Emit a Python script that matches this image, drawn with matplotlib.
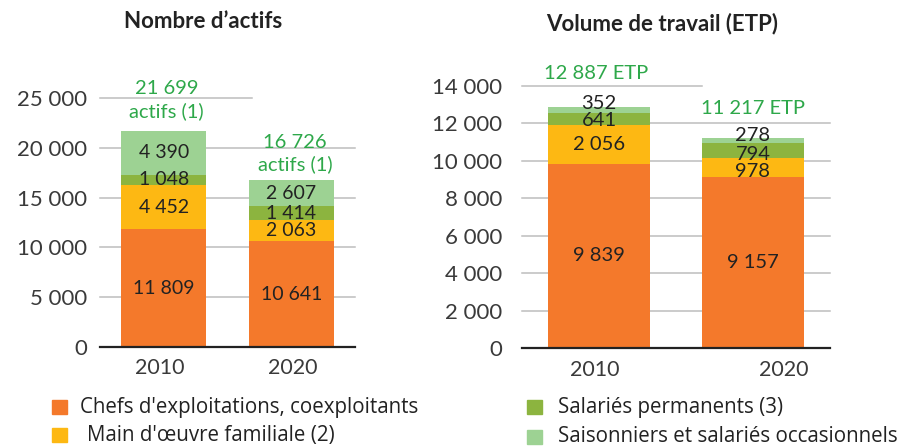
import matplotlib.pyplot as plt
from matplotlib.patches import Rectangle
from matplotlib.ticker import FuncFormatter

plt.rcParams['font.family'] = ['Lato', 'DejaVu Sans']

# ------------------------------------------------------------
# DATA
# ------------------------------------------------------------
years = ["2010", "2020"]
categories = [
    "Chefs d'exploitations, coexploitants",
    "Main d'œuvre familiale (2)",
    "Salariés permanents (3)",
    "Saisonniers et salariés occasionnels",
]
colors = ["#F4792B", "#FDB813", "#8CB43F", "#9DD293"]

actifs = [
    [11809, 10641],
    [4452, 2063],
    [1048, 1414],
    [4390, 2607],
]
actifs_totals = ["21 699\nactifs (1)", "16 726\nactifs (1)"]
actifs_total_vals = [21699, 16726]

etp = [
    [9839, 9157],
    [2056, 978],
    [641, 794],
    [352, 278],
]
etp_totals = ["12 887 ETP", "11 217 ETP"]
etp_total_vals = [12887, 11217]

GREEN_TXT = "#2EA84A"
DARK = "#222222"
GRID = "#BDBDBD"

# label nudges (points) for crowded segments of the ETP panel
etp_nudge = [[0, 0], [0, -3], [-1, -2.5], [5, 4]]
no_nudge = [[0, 0], [0, 0], [0, 0], [0, 0]]


def fmt(v):
    return f"{v:,.0f}".replace(",", " ")


def draw_panel(ax, series, totals, total_vals, ymax, step, width, top_grid_frac,
               tick_pad, year_shift, total_offset, total_lift, label_fs, nudge):
    x = list(range(len(years)))
    bottoms = [0] * len(years)
    for vals, col, nd in zip(series, colors, nudge):
        ax.bar(x, vals, width=width, bottom=bottoms, color=col, zorder=2)
        for i, v in enumerate(vals):
            ax.annotate(fmt(v), (x[i], bottoms[i] + v / 2), xytext=(0, nd[i]),
                        textcoords="offset points", ha="center", va="center",
                        fontsize=label_fs, color=DARK, zorder=3)
        bottoms = [b + v for b, v in zip(bottoms, vals)]

    # totals
    for i, (t, tv) in enumerate(zip(totals, total_vals)):
        ax.text(x[i] + total_offset[i], tv + ymax * total_lift[i], t, ha="center",
                va="bottom", fontsize=14.5, color=GREEN_TXT, linespacing=1.3,
                clip_on=False)

    ax.set_ylim(0, ymax)
    ax.set_xlim(-0.5, 1.5)
    ticks = list(range(0, ymax + 1, step))
    ax.set_yticks(ticks)
    ax.yaxis.set_major_formatter(FuncFormatter(lambda v, p: fmt(v)))
    for t in ticks[1:]:
        xmax = top_grid_frac if t == ticks[-1] else 1
        ax.axhline(t, xmin=0, xmax=xmax, color=GRID, lw=1.1, zorder=1, clip_on=False)

    for s in ["top", "right", "left"]:
        ax.spines[s].set_visible(False)
    ax.spines["bottom"].set_color("#222222")
    ax.spines["bottom"].set_linewidth(1.6)
    ax.spines["bottom"].set_zorder(4)
    ax.tick_params(axis="y", length=0, pad=tick_pad, labelsize=16, labelcolor="#3a3a3a")
    ax.set_xticks([])
    for i, y in enumerate(years):
        ax.text(x[i] + year_shift[i], -ymax * 0.045, y, ha="center", va="top",
                fontsize=15.5, color="#3a3a3a")


fig = plt.figure(figsize=(9.04, 4.46), dpi=100)

ax1 = fig.add_axes([100 / 904, 99 / 446, 255 / 904, 249 / 446])
draw_panel(ax1, actifs, actifs_totals, actifs_total_vals, 25000, 5000, 0.67,
           0.596, 9, [-0.03, 0.01], [0.02, 0.03], [0.045, 0.03], 14, no_nudge)

ax2 = fig.add_axes([522 / 904, 98 / 446, 308 / 904, 262 / 446])
draw_panel(ax2, etp, etp_totals, etp_total_vals, 14000, 2000, 0.66,
           0.584, 14, [-0.03, 0.2], [-0.02, 0.0], [0.095, 0.08], 14.5, etp_nudge)

fig.text(203 / 904, 1 - 22 / 446, "Nombre d\u2019actifs", ha="center", va="center",
         fontsize=16, color=DARK, fontweight="bold")
fig.text(662 / 904, 1 - 24 / 446, "Volume de travail (ETP)", ha="center", va="center",
         fontsize=16, color=DARK, fontweight="bold")

# legend
leg_pos = [(52, 407), (52, 435), (527, 407), (527, 437)]
txt_off = [28, 35, 31, 31]
for (px, py), off, cat, col in zip(leg_pos, txt_off, categories, colors):
    fig.patches.append(Rectangle((px / 904, 1 - (py + 7) / 446), 15 / 904, 14 / 446,
                                 transform=fig.transFigure, color=col))
    fig.text((px + off) / 904, 1 - py / 446, cat, ha="left", va="center",
             fontsize=14.8, color=DARK, family=["Open Sans", "DejaVu Sans"])

fig.savefig("out.png", dpi=100)
